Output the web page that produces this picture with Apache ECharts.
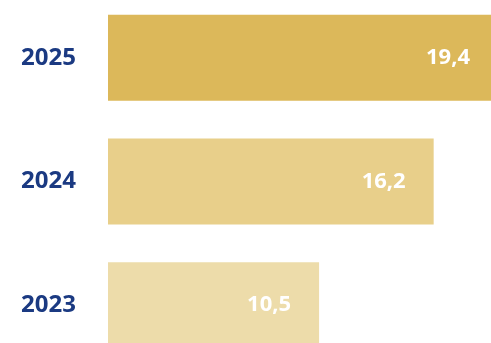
<!DOCTYPE html>
<html>
<head>
<meta charset="utf-8">
<script src="https://cdn.jsdelivr.net/npm/echarts@6/dist/echarts.min.js"></script>
<style>html,body{margin:0;padding:0;background:#fff}#c{width:491px;height:343px}</style>
</head>
<body>
<div id="c"></div>
<script>
var categories = ['2023', '2024', '2025'];
var values = [10.5, 16.2, 19.4];
var barColors = ['#eddcaa', '#e8cf8a', '#dcb85a'];

var chart = echarts.init(document.getElementById('c'), null, {renderer: 'canvas'});
chart.setOption({
  animation: false,
  grid: {left: 108, right: -7, top: -4, bottom: -24, containLabel: false, outerBoundsMode: 'none'},
  xAxis: {type: 'value', min: 0, max: 19.4, show: false},
  yAxis: {
    type: 'category', data: categories,
    axisLine: {show: false}, axisTick: {show: false}, splitLine: {show: false},
    axisLabel: {margin: 32, color: '#1b3a82', fontFamily: 'Open Sans', fontWeight: 'bold', fontSize: 24}
  },
  series: [{
    type: 'bar', barWidth: 86,
    data: values.map(function (v, i) { return {value: v, itemStyle: {color: barColors[i]}}; }),
    label: {
      show: true, position: 'insideRight', distance: 28,
      color: '#fff', fontFamily: 'Open Sans', fontWeight: 'bold', fontSize: 22,
      formatter: function (p) { return String(p.value).replace('.', ','); }
    }
  }]
});
</script>
</body>
</html>
